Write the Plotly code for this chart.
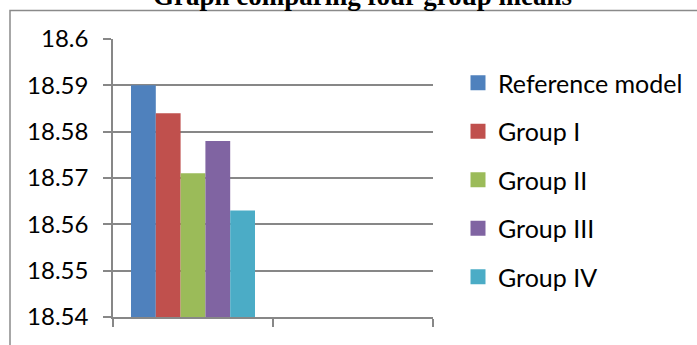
import plotly.graph_objects as go

# ---- data ----
series_names = ["Reference model", "Group I", "Group II", "Group III", "Group IV"]
series_values = [18.590, 18.584, 18.571, 18.578, 18.563]
series_colors = ["#4F81BD", "#C0504D", "#9BBB59", "#8064A2", "#4BACC6"]
categories = ["c1", "c2"]
y_tickvals = [18.54, 18.55, 18.56, 18.57, 18.58, 18.59, 18.6]
y_ticktext = ["18.54", "18.55", "18.56", "18.57", "18.58", "18.59", "18.6"]
title_text = "Graph comparing four group means"

GRID = "#878787"
FONT = "Lato"

fig = go.Figure()
for name, val, col in zip(series_names, series_values, series_colors):
    fig.add_trace(go.Bar(
        x=categories, y=[val, None], name=name, marker=dict(color=col, line=dict(width=0)),
        showlegend=False, hoverinfo="skip",
    ))
for name, col in zip(series_names, series_colors):
    fig.add_trace(go.Scatter(
        x=[None], y=[None], mode="markers", name=name, legendgroup=name,
        marker=dict(symbol="square", size=15, color=col),
    ))

W, H = 697, 345
L, R, T, B = 113, 264, 39, 28
pw = W - L - R
ph = H - T - B

def px_x(px):
    return (px - L) / pw

def px_y(py):
    return 1 - (py - T) / ph

fig.update_layout(
    width=W, height=H,
    margin=dict(l=L, r=R, t=T, b=B, pad=0),
    paper_bgcolor="white", plot_bgcolor="white",
    barmode="group", bargap=0.225, bargroupgap=0,
    font=dict(family=FONT, color="black", size=22),
    showlegend=True,
    legend=dict(
        xref="container", yref="paper",
        x=458 / W, xanchor="left", y=px_y(60), yanchor="top",
        font=dict(family=FONT, size=25, color="black"),
        tracegroupgap=13, bgcolor="rgba(0,0,0,0)", borderwidth=0,
    ),
    xaxis=dict(
        type="category", categoryorder="array", categoryarray=categories,
        range=[-0.5, 1.5], tickson="boundaries", ticks="outside", ticklen=8,
        tickcolor=GRID, tickwidth=1.5, showticklabels=False,
        showline=True, linecolor=GRID, linewidth=1.5, showgrid=False, zeroline=False,
        fixedrange=True,
    ),
    yaxis=dict(
        range=[18.54, 18.6], tickvals=y_tickvals, ticktext=y_ticktext,
        ticks="outside", ticklen=8, tickcolor=GRID, tickwidth=1.5,
        ticklabelstandoff=10,
        showline=True, linecolor=GRID, linewidth=1.5,
        showgrid=True, gridcolor=GRID, gridwidth=1.5, zeroline=False,
        tickfont=dict(family=FONT, size=24, color="black"),
        fixedrange=True,
    ),
    shapes=[dict(
        type="rect", xref="paper", yref="paper",
        x0=px_x(10), x1=px_x(760), y0=px_y(400), y1=px_y(10.5),
        line=dict(color="#8a8a8a", width=1.5), fillcolor="rgba(0,0,0,0)", layer="below",
    )],
    annotations=[dict(
        text="<b>" + title_text + "</b>", xref="paper", yref="paper",
        x=px_x(362.5), y=px_y(-4), xanchor="center", yanchor="middle",
        showarrow=False, font=dict(family="Liberation Serif", size=27, color="black"),
    )],
)

fig.write_html("out.html")
